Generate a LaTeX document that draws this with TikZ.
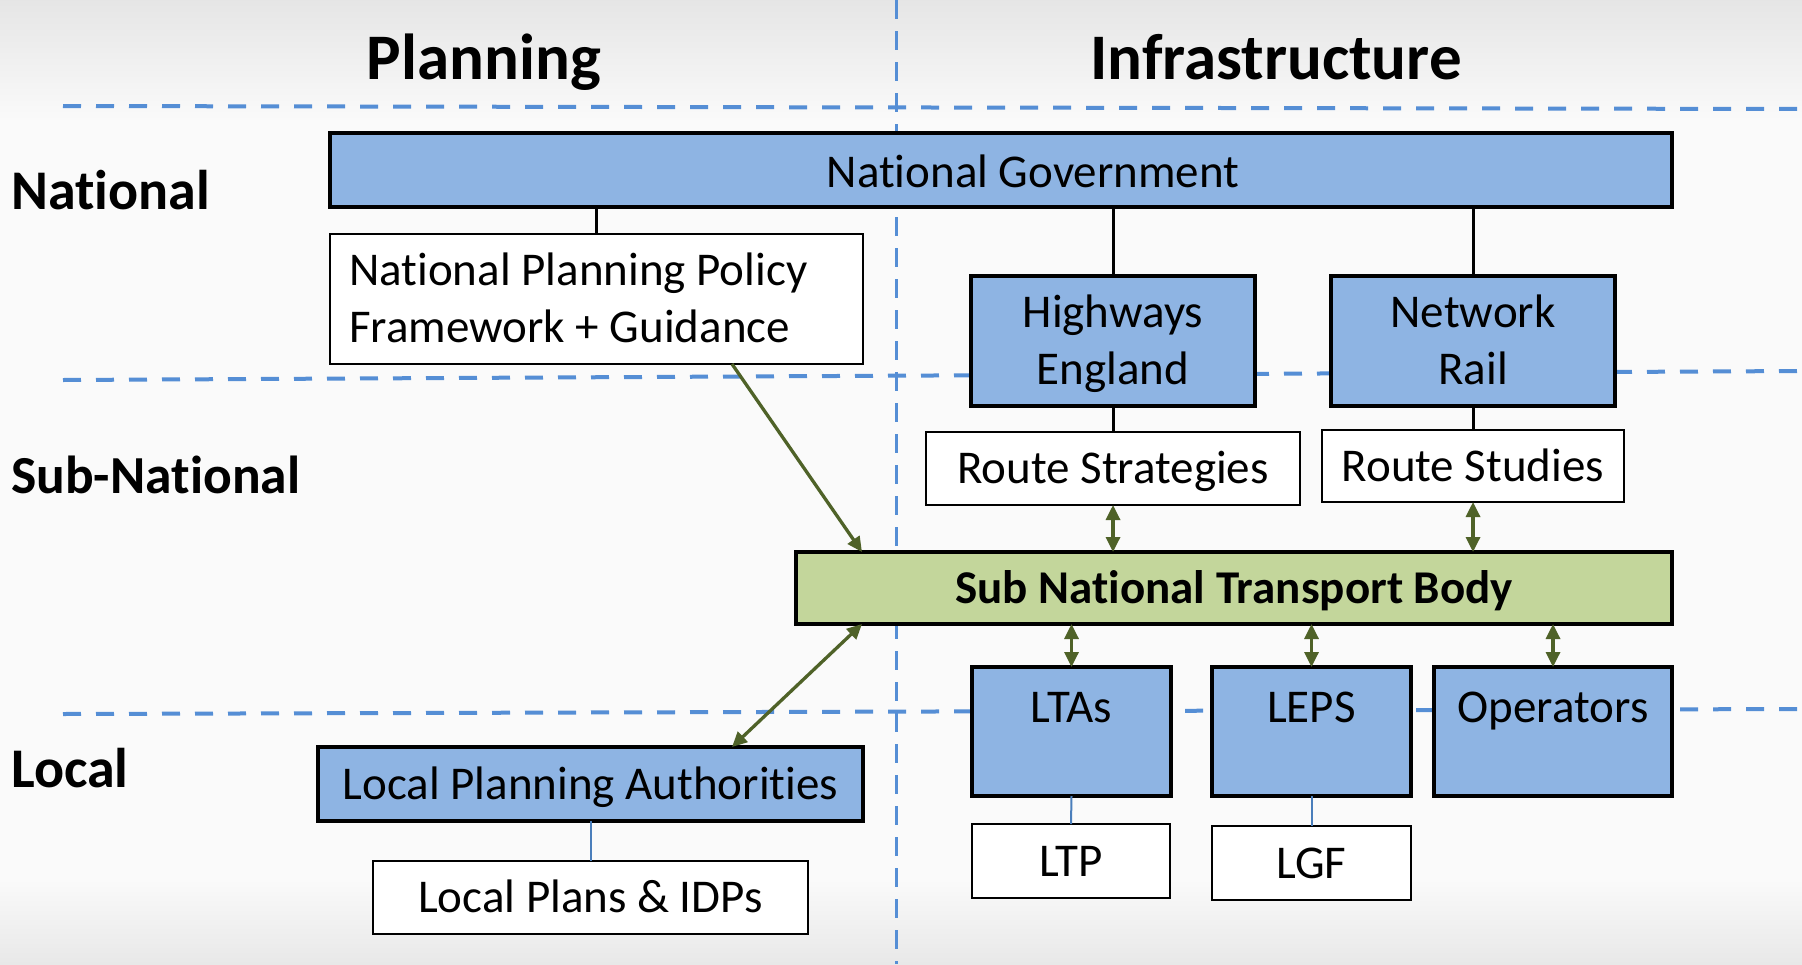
\documentclass[tikz,border=0pt]{standalone}
\usepackage{fontspec}
\setmainfont{Carlito}[Ligatures=NoCommon]
\usetikzlibrary{arrows.meta,calc}
\definecolor{boxblue}{HTML}{8EB4E3}
\definecolor{boxgreen}{HTML}{C3D69B}
\definecolor{gridblue}{HTML}{558ED5}
\definecolor{arrowgreen}{HTML}{4F6228}
\definecolor{linkblue}{HTML}{4A7EBB}
\begin{document}
\begin{tikzpicture}[x=1pt,y=-1pt,
  box/.style={draw=black, rectangle, inner sep=0pt, outer sep=0pt},
  bluebox/.style={box, fill=boxblue, line width=3.5pt},
  whitebox/.style={box, fill=white, line width=2.5pt},
  greenbox/.style={box, fill=boxgreen, line width=3.5pt},
  txt/.style={font=\fontsize{47}{57}\selectfont, inner sep=0pt},
  ctxt/.style={txt, text height=30pt, text depth=0pt},
  rowlabel/.style={font=\fontsize{56}{60}\selectfont\bfseries, inner sep=0pt, anchor=base west},
  title/.style={font=\fontsize{65}{70}\selectfont\bfseries, inner sep=0pt, anchor=base},
  hgrid/.style={gridblue, line width=4pt, dash pattern=on 18pt off 15pt},
  vgrid/.style={gridblue, line width=3pt, dash pattern=on 19pt off 12pt},
  tree/.style={black, line width=3pt},
  thinlink/.style={linkblue, line width=2pt},
  biarrow/.style={arrowgreen, line width=3.3pt, {Triangle[length=15pt,width=14pt]}-{Triangle[length=15pt,width=14pt]}},
  onearrow/.style={arrowgreen, line width=3.3pt, -{Triangle[length=15pt,width=14pt]}},
]
\useasboundingbox (0,0) rectangle (1802,964);
% background
\fill[black!2] (0,0) rectangle (1802,964);
\shade[top color=black!10, bottom color=black!2] (0,0) rectangle (1802,120);
\shade[top color=black!2, bottom color=black!9] (0,880) rectangle (1802,964);
% grid lines
\draw[hgrid] (63,106) -- (1802,109);
\draw[hgrid] (63,380) -- (1802,371);
\draw[hgrid] (63,714) -- (1802,709);
\draw[vgrid] (896.5,0) -- (896.5,964);
% titles and row labels
\node[title] (tplan) at (484,79) {Planning};
\node[title] (tinfra) at (1276,79) {Infrastructure};
\node[rowlabel] (rnat) at (11,209) {National};
\node[rowlabel, font=\fontsize{53.5}{60}\selectfont\bfseries] (rsub) at (11,493) {Sub-National};
\node[rowlabel] (rloc) at (11,787) {Local};
% boxes
\node[bluebox, minimum width=1342pt, minimum height=74pt] (ng) at (1001,170) {};
\node[txt, anchor=base] (ngt) at (1033,187) {National Government};
\node[whitebox, minimum width=533pt, minimum height=130pt] (nppf) at (596.5,299) {};
\node[txt, anchor=base west, align=left] (nppft) at (349,342) {National Planning Policy\\Framework + Guidance};
\node[bluebox, minimum width=284pt, minimum height=130pt] (he) at (1113,341) {};
\node[txt, anchor=base, align=center] (het) at (1113,384) {Highways\\England};
\node[bluebox, minimum width=284pt, minimum height=130pt] (nr) at (1473,341) {};
\node[txt, anchor=base, align=center] (nrt) at (1473,384) {Network\\Rail};
\node[whitebox, ctxt, minimum width=374pt, minimum height=73pt] (rs) at (1113,468.5) {Route Strategies};
\node[whitebox, ctxt, minimum width=302pt, minimum height=72pt] (rst) at (1473,466) {Route Studies};
\node[greenbox, ctxt, font=\fontsize{47}{57}\selectfont\bfseries, minimum width=876pt, minimum height=72pt] (sntb) at (1234,588) {Sub National Transport Body};
\node[bluebox, minimum width=199pt, minimum height=129pt] (ltas) at (1071.5,731.5) {};
\node[txt, anchor=base] (ltast) at (1071.5,722) {LTAs};
\node[bluebox, minimum width=199pt, minimum height=129pt] (leps) at (1311.5,731.5) {};
\node[txt, anchor=base] (lepst) at (1311.5,722) {LEPS};
\node[bluebox, minimum width=238pt, minimum height=129pt] (ops) at (1553,731.5) {};
\node[txt, anchor=base] (opst) at (1553,722) {Operators};
\node[bluebox, ctxt, minimum width=545pt, minimum height=74pt] (lpa) at (590.5,784) {Local Planning Authorities};
\node[whitebox, ctxt, minimum width=435pt, minimum height=73pt] (lp) at (590.5,897.5) {Local Plans \& IDPs};
\node[whitebox, ctxt, minimum width=198pt, minimum height=74pt] (ltp) at (1071,861) {LTP};
\node[whitebox, ctxt, minimum width=199pt, minimum height=74pt] (lgf) at (1311.5,863) {LGF};
% tree connectors
\draw[tree] (nppf.north) -- (nppf.north |- ng.south);
\draw[tree] (he.north) -- (he.north |- ng.south);
\draw[tree] (nr.north) -- (nr.north |- ng.south);
\draw[tree] (he.south) -- (he.south |- rs.north);
\draw[tree] (nr.south) -- (nr.south |- rst.north);
\draw[thinlink] (lpa.south) -- (lp.north);
\draw[thinlink] (ltas.south) -- (ltp.north);
\draw[thinlink] (leps.south) -- (lgf.north);
% arrows
\draw[biarrow] (rs.south) -- (rs.south |- sntb.north);
\draw[biarrow] (rst.south) -- (rst.south |- sntb.north);
\draw[biarrow] (sntb.south -| ltas.north) -- (ltas.north);
\draw[biarrow] (sntb.south -| leps.north) -- (leps.north);
\draw[biarrow] (sntb.south -| ops.north) -- (ops.north);
\draw[onearrow] ([xshift=135.5pt]nppf.south) -- ([xshift=66pt]sntb.north west);
\draw[biarrow] ([xshift=66pt]sntb.south west) -- ([xshift=414pt]lpa.north west);
\end{tikzpicture}
\end{document}
